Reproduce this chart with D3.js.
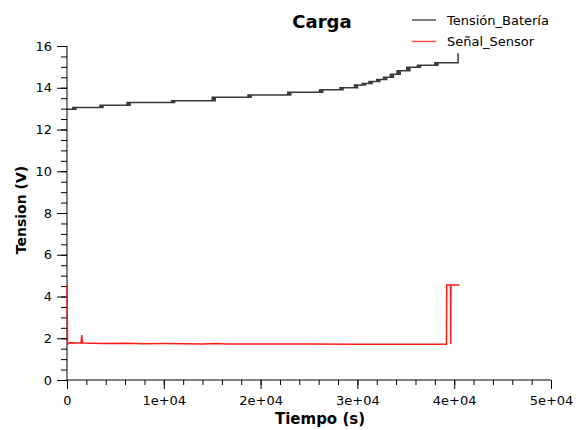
<!DOCTYPE html>
<html><head><meta charset="utf-8">
<script src="https://cdn.jsdelivr.net/npm/d3@7"></script>
<style>body{margin:0;background:#fff}svg{display:block}text{font-family:"DejaVu Sans",sans-serif}</style>
</head><body>
<svg id="c" width="576" height="430"></svg>
<script>
const chartTitle = "Carga";
const xLabel = "Tiempo (s)";
const yLabel = "Tension (V)";
const seriesNames = ["Tensión_Batería", "Señal_Sensor"];
const xTicks = [0, 10000, 20000, 30000, 40000, 50000];
const xTickLabels = ["0", "1e+04", "2e+04", "3e+04", "4e+04", "5e+04"];
const yTicks = [0, 2, 4, 6, 8, 10, 12, 14, 16];

// battery voltage: level changes (start time of each level, level value)
const batStepTime = [0, 600, 3400, 6200, 10800, 15000, 18700, 22800, 26100, 28200, 29700, 30500, 31200, 32000, 32700, 33400, 34100, 35100, 36200, 38000, 40400];
const batStepValue = [12.97, 13.05, 13.16, 13.29, 13.38, 13.54, 13.65, 13.78, 13.9, 14.0, 14.13, 14.2, 14.3, 14.4, 14.5, 14.65, 14.82, 14.98, 15.08, 15.2, 15.65];
// sensor signal readings
const senTime = [0, 60, 300, 1000, 1450, 1520, 1590, 2500, 4000, 6000, 8000, 10000, 12000, 14000, 15500, 16500, 18000, 21000, 25000, 30000, 35000, 39200, 39230, 39620, 39640, 39660, 40530];
const senValue = [4.55, 1.72, 1.78, 1.77, 1.78, 2.15, 1.77, 1.76, 1.75, 1.76, 1.74, 1.75, 1.74, 1.73, 1.75, 1.73, 1.73, 1.72, 1.72, 1.71, 1.71, 1.71, 4.55, 4.55, 1.72, 4.55, 4.55];
// offsets (s) of the reading flicker between two levels around each change
const flickerOffsets = [0, 80, 160, 240, 320];

const svg = d3.select("#c");
const x = d3.scaleLinear().domain([0, 50000]).range([67, 551]);
const y = d3.scaleLinear().domain([0, 16]).range([380, 46]);

// minor ticks
svg.append("g").attr("transform", "translate(0,380)")
  .call(d3.axisBottom(x).tickValues(d3.range(0, 50001, 2000)).tickSize(5).tickFormat(""))
  .call(g => g.select(".domain").remove());
svg.append("g").attr("transform", "translate(67,0)")
  .call(d3.axisLeft(y).tickValues(d3.range(0, 16.01, 0.5)).tickSize(6).tickFormat(""))
  .call(g => g.select(".domain").remove());

const xAxis = d3.axisBottom(x).tickValues(xTicks).tickSize(9).tickPadding(7).tickFormat((d, i) => xTickLabels[i]);
const yAxis = d3.axisLeft(y).tickValues(yTicks).tickSize(10).tickPadding(5);
svg.append("g").attr("transform", "translate(0,380)").call(xAxis)
  .call(g => g.select(".domain").attr("d", "M67,0H551"))
  .call(g => g.selectAll("text").attr("font-size", 13).attr("fill", "#000").style("font-family", "DejaVu Sans"));
svg.append("g").attr("transform", "translate(67,0)").call(yAxis)
  .call(g => g.select(".domain").attr("d", "M0,46V380"))
  .call(g => g.selectAll("text").attr("font-size", 13).attr("fill", "#000").style("font-family", "DejaVu Sans"));
svg.selectAll(".tick line, .domain").attr("stroke", "#000");

// build battery data with flicker at each level change
const batData = [];
batStepTime.forEach((t, i) => {
  if (i === 0) { batData.push([t, batStepValue[0]]); return; }
  if (i === batStepTime.length - 1) { batData.push([t, batStepValue[i]]); return; }
  flickerOffsets.forEach((o, k) => batData.push([t + o, k % 2 === 0 ? batStepValue[i] : batStepValue[i - 1]]));
});
const senData = senTime.map((t, i) => [t, senValue[i]]);

svg.append("path").datum(batData).attr("fill", "none").attr("stroke", "#3a3a3a").attr("stroke-width", 1.5)
  .attr("d", d3.line().x(d => x(d[0])).y(d => y(d[1])).curve(d3.curveStepAfter));
svg.append("path").datum(senData).attr("fill", "none").attr("stroke", "#ff1a1a").attr("stroke-width", 1.5)
  .attr("d", d3.line().x(d => x(d[0])).y(d => y(d[1])));

svg.append("text").attr("x", 322).attr("y", 28).attr("text-anchor", "middle")
  .attr("font-size", 18).attr("font-weight", "bold").text(chartTitle);
svg.append("text").attr("x", 320).attr("y", 424).attr("text-anchor", "middle")
  .attr("font-size", 15).attr("font-weight", "bold").text(xLabel);
svg.append("text").attr("transform", "translate(26,210) rotate(-90)").attr("text-anchor", "middle")
  .attr("font-size", 14).attr("font-weight", "bold").text(yLabel);

const legColors = ["#555", "#ff4d4d"];
seriesNames.forEach((n, i) => {
  const ly = 20 + i * 21.5;
  svg.append("line").attr("x1", 412).attr("x2", 436).attr("y1", ly).attr("y2", ly)
    .attr("stroke", legColors[i]).attr("stroke-width", 1.5);
  svg.append("text").attr("x", 447).attr("y", ly + 4.5).attr("font-size", 13).text(n);
});
</script>
</body></html>
